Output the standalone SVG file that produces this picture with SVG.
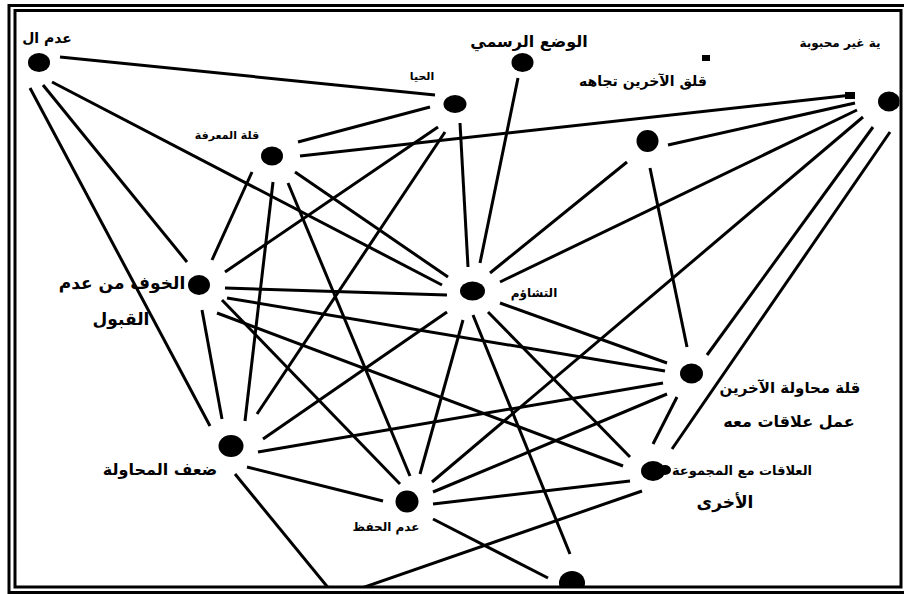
<svg xmlns="http://www.w3.org/2000/svg" width="904" height="594" viewBox="0 0 904 594">
<defs>
<style>
.e{stroke:#000;stroke-width:3;fill:none;stroke-linecap:butt}
.n{fill:#000}
.t{font-family:"DejaVu Sans",sans-serif;font-size:13px;font-weight:bold;text-anchor:middle;fill:#000}
.f{fill:none;stroke:#000;stroke-width:3}
</style>
<clipPath id="inner"><rect x="16.5" y="12" width="883" height="574"/></clipPath>
</defs>
<rect x="0" y="0" width="904" height="594" fill="#fff"/>
<g clip-path="url(#inner)">
<g id="connectors">
<line class="e" x1="60" y1="57" x2="435" y2="95"/>
<line class="e" x1="52" y1="82" x2="442" y2="285"/>
<line class="e" x1="43" y1="85" x2="187" y2="262"/>
<line class="e" x1="30" y1="88" x2="210" y2="426"/>
<line class="e" x1="298" y1="142" x2="430" y2="107"/>
<line class="e" x1="300" y1="156" x2="852" y2="95"/>
<line class="e" x1="252" y1="172" x2="212" y2="260"/>
<line class="e" x1="273" y1="182" x2="245" y2="421"/>
<line class="e" x1="288" y1="183" x2="410" y2="476"/>
<line class="e" x1="295" y1="172" x2="448" y2="277"/>
<line class="e" x1="438" y1="127" x2="225" y2="272"/>
<line class="e" x1="445" y1="132" x2="257" y2="414"/>
<line class="e" x1="460" y1="123" x2="468" y2="267"/>
<line class="e" x1="518" y1="78" x2="480" y2="263"/>
<line class="e" x1="855" y1="103" x2="668" y2="145"/>
<line class="e" x1="857" y1="110" x2="500" y2="282"/>
<line class="e" x1="863" y1="117" x2="432" y2="482"/>
<line class="e" x1="873" y1="127" x2="707" y2="355"/>
<line class="e" x1="890" y1="132" x2="672" y2="449"/>
<line class="e" x1="627" y1="162" x2="490" y2="273"/>
<line class="e" x1="650" y1="168" x2="687" y2="347"/>
<line class="e" x1="225" y1="288" x2="447" y2="295"/>
<line class="e" x1="227" y1="298" x2="665" y2="371"/>
<line class="e" x1="217" y1="313" x2="623" y2="466"/>
<line class="e" x1="202" y1="310" x2="222" y2="419"/>
<line class="e" x1="222" y1="300" x2="400" y2="484"/>
<line class="e" x1="500" y1="303" x2="667" y2="363"/>
<line class="e" x1="488" y1="312" x2="630" y2="457"/>
<line class="e" x1="447" y1="312" x2="263" y2="439"/>
<line class="e" x1="463" y1="320" x2="420" y2="474"/>
<line class="e" x1="473" y1="315" x2="570" y2="554"/>
<line class="e" x1="677" y1="397" x2="653" y2="444"/>
<line class="e" x1="663" y1="383" x2="258" y2="452"/>
<line class="e" x1="667" y1="394" x2="433" y2="492"/>
<line class="e" x1="630" y1="481" x2="433" y2="504"/>
<line class="e" x1="642" y1="491" x2="356" y2="590"/>
<line class="e" x1="247" y1="467" x2="383" y2="501"/>
<line class="e" x1="235" y1="474" x2="330" y2="590"/>
<line class="e" x1="433" y1="519" x2="548" y2="578"/>
<rect class="n" x="845" y="92" width="10" height="7"/>
<rect class="n" x="702" y="55" width="8" height="6"/>
</g>
<g id="nA"><ellipse class="n" cx="39" cy="62.5" rx="11" ry="9.5"/><text class="t" x="47" y="43" style="font-size:14px">عدم ال</text></g>
<g id="nB"><ellipse class="n" cx="455" cy="104" rx="11.5" ry="9"/><text class="t" x="422" y="80" style="font-size:11px">الحيا</text></g>
<g id="nC"><ellipse class="n" cx="522.5" cy="62.5" rx="11" ry="9.5"/><text class="t" x="529" y="47" style="font-size:16px">الوضع الرسمي</text></g>
<g id="nD"><ellipse class="n" cx="889" cy="101.5" rx="11" ry="10"/><text class="t" x="840" y="47" style="font-size:12px">ية غير محبوبة</text></g>
<g id="nE"><ellipse class="n" cx="272" cy="156" rx="11" ry="9.5"/><text class="t" x="227" y="139" style="font-size:11px">قلة المعرفة</text></g>
<g id="nF"><ellipse class="n" cx="647.5" cy="141" rx="11" ry="11"/><text class="t" x="643" y="86" style="font-size:14px">قلق الآخرين تجاهه</text></g>
<g id="nG"><text class="t" x="122" y="289" style="font-size:17px">الخوف من عدم</text><text class="t" x="121" y="325" style="font-size:17px">القبول</text><ellipse class="n" cx="199" cy="285" rx="11" ry="10"/></g>
<g id="nH"><ellipse class="n" cx="472.5" cy="291" rx="12.5" ry="9.5"/><text class="t" x="534" y="297" style="font-size:12px">التشاؤم</text></g>
<g id="nI"><ellipse class="n" cx="691.5" cy="373.5" rx="11.5" ry="10"/><text class="t" x="790" y="393" style="font-size:15px">قلة محاولة الآخرين</text><text class="t" x="789" y="427" style="font-size:16px">عمل علاقات معه</text></g>
<g id="nJ"><text class="t" x="742" y="475" style="font-size:13px">العلاقات مع المجموعة</text><text class="t" x="725" y="508" style="font-size:17px">الأخرى</text><ellipse class="n" cx="653" cy="471" rx="12" ry="10"/><ellipse class="n" cx="665" cy="470" rx="6" ry="5"/></g>
<g id="nK"><ellipse class="n" cx="231" cy="446" rx="12.5" ry="11"/><text class="t" x="160" y="475" style="font-size:16px">ضعف المحاولة</text></g>
<g id="nL"><ellipse class="n" cx="407" cy="501.5" rx="11.5" ry="11"/><text class="t" x="386" y="531" style="font-size:12px">عدم الحفظ</text></g>
<g id="nM"><ellipse class="n" cx="572" cy="583" rx="13" ry="12"/></g>
</g>
<g id="frame">
<rect class="f" x="9" y="5.5" width="900" height="587"/>
<rect class="f" x="15" y="10.5" width="886" height="576.5"/>
</g>
</svg>
